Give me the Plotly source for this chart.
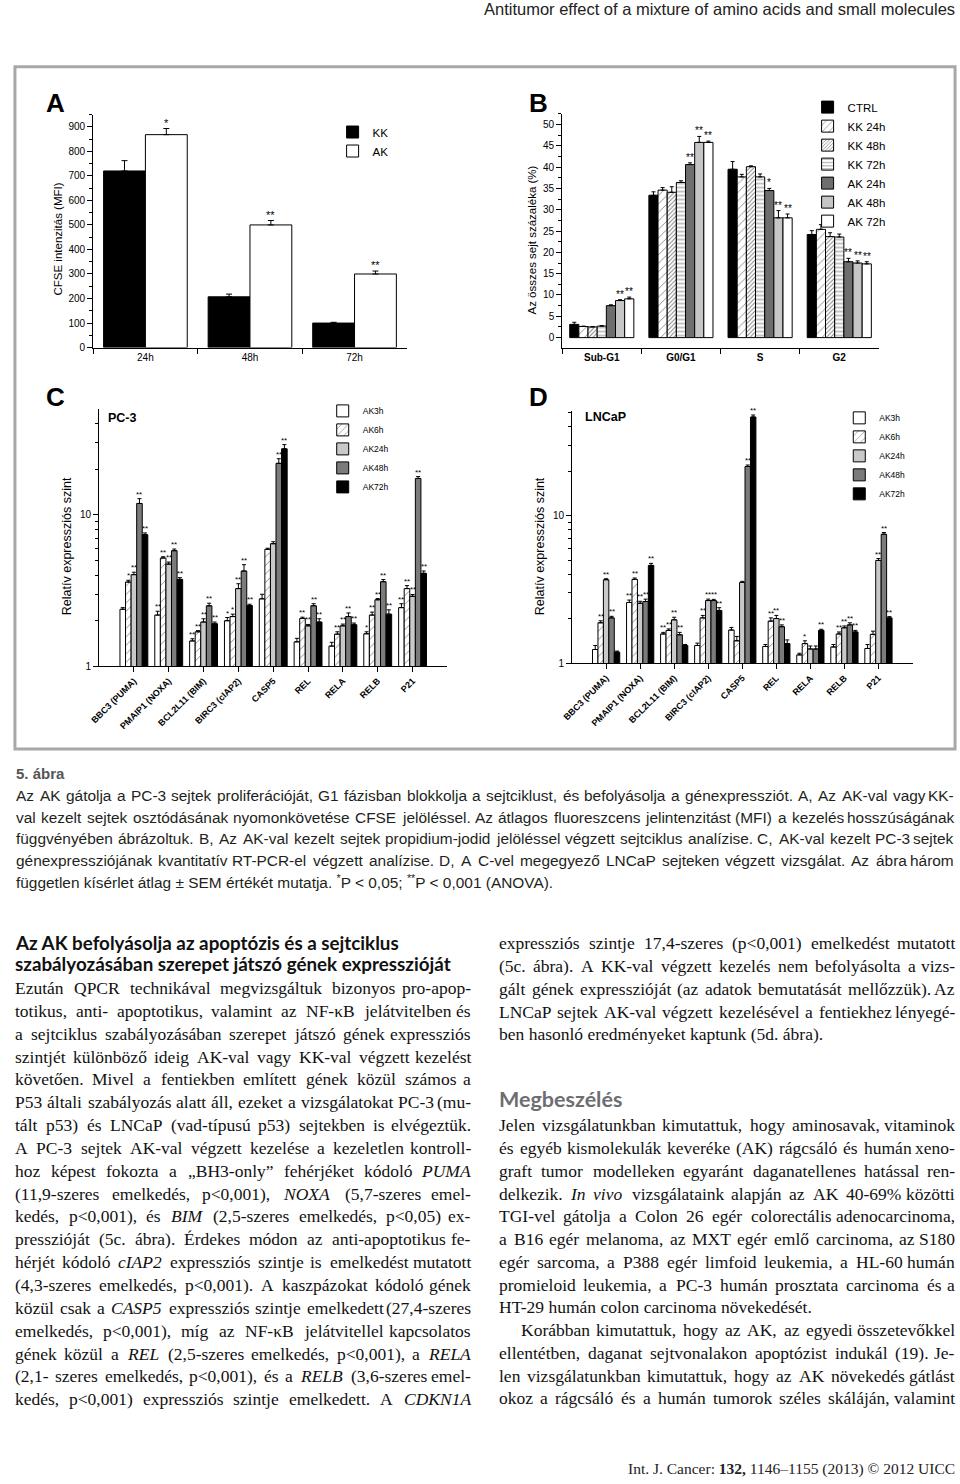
import math
import unicodedata
import plotly.graph_objects as go

W, H = 960, 1484


def X(px):
    return px / W


def Y(py):
    return 1 - py / H


# ---------------- Panel A: CFSE ----------------
a_times = ["24h", "48h", "72h"]
a_kk = [720, 207, 100]
a_kk_err = [42, 11, 3]
a_kk_sig = ["", "", ""]
a_ak = [868, 500, 300]
a_ak_err = [25, 18, 12]
a_ak_sig = ["*", "**", "**"]

# ---------------- Panel B: cell cycle ----------------
b_phases = ["Sub-G1", "G0/G1", "S", "G2"]
b_names = ["CTRL", "KK 24h", "KK 48h", "KK 72h", "AK 24h", "AK 48h", "AK 72h"]
b_ctrl = [3.1, 33.4, 39.5, 24.2]
b_ctrl_err = [0.5, 0.8, 1.8, 0.9]
b_kk24 = [2.6, 34.6, 37.7, 25.4]
b_kk24_err = [0.1, 0.6, 0.6, 1.1]
b_kk48 = [2.5, 34.1, 40.1, 23.7]
b_kk48_err = [0.1, 1.3, 0.2, 0.9]
b_kk72 = [2.7, 36.4, 37.7, 23.6]
b_kk72_err = [0.1, 0.4, 0.7, 0.7]
b_ak24 = [7.5, 40.6, 34.5, 17.8]
b_ak24_err = [0.2, 0.4, 0.5, 0.8]
b_ak48 = [8.7, 45.8, 28.1, 17.5]
b_ak48_err = [0.2, 1.4, 1.7, 0.5]
b_ak72 = [9.1, 45.8, 28.1, 17.3]
b_ak72_err = [0.4, 0.3, 0.9, 0.5]
b_none_sig = ["", "", "", ""]
b_ak24_sig = ["", "**", "*", "**"]
b_ak48_sig = ["**", "**", "**", "**"]
b_ak72_sig = ["**", "**", "**", "**"]

# ---------------- Panels C/D: gene expression ----------------
genes = ["BBC3 (PUMA)", "PMAIP1 (NOXA)", "BCL2L11 (BIM)", "BIRC3 (cIAP2)",
         "CASP5", "REL", "RELA", "RELB", "P21"]
cd_names = ["AK3h", "AK6h", "AK24h", "AK48h", "AK72h"]

c_ak3 = [2.38, 2.18, 1.47, 2.00, 2.79, 1.45, 1.36, 1.64, 2.44]
c_ak3_err = [0.06, 0.13, 0.05, 0.10, 0.20, 0.08, 0.08, 0.05, 0.15]
c_ak3_sig = ["", "**", "**", "*", "", "", "", "*", "**"]
c_ak6 = [3.60, 5.19, 1.69, 2.13, 5.92, 2.07, 1.63, 2.18, 3.26]
c_ak6_err = [0.10, 0.10, 0.03, 0.08, 0.10, 0.04, 0.06, 0.10, 0.15]
c_ak6_sig = ["*", "**", "**", "*", "", "**", "**", "**", "**"]
c_ak24 = [4.03, 4.73, 1.96, 3.26, 6.45, 1.85, 1.85, 2.75, 2.90]
c_ak24_err = [0.15, 0.15, 0.10, 0.25, 0.20, 0.04, 0.05, 0.05, 0.08]
c_ak24_sig = ["**", "**", "**", "**", "", "**", "**", "**", "**"]
c_ak48 = [11.9, 5.80, 2.51, 4.26, 21.9, 2.51, 2.13, 3.62, 17.4]
c_ak48_err = [0.90, 0.15, 0.10, 0.43, 1.60, 0.08, 0.12, 0.12, 0.50]
c_ak48_sig = ["**", "**", "**", "**", "**", "**", "**", "**", "**"]
c_ak72 = [7.40, 3.75, 1.91, 2.52, 27.3, 1.96, 1.88, 2.21, 4.11]
c_ak72_err = [0.20, 0.10, 0.05, 0.05, 1.80, 0.10, 0.05, 0.15, 0.15]
c_ak72_sig = ["**", "**", "**", "**", "**", "**", "**", "**", "**"]

d_ak3 = [1.24, 2.58, 1.58, 1.32, 1.68, 1.30, 1.14, 1.29, 1.26]
d_ak3_err = [0.08, 0.10, 0.04, 0.05, 0.07, 0.04, 0.03, 0.05, 0.08]
d_ak3_sig = ["", "**", "**", "", "", "", "", "", ""]
d_ak6 = [1.88, 3.70, 1.67, 2.03, 1.42, 1.93, 1.36, 1.58, 1.57]
d_ak6_err = [0.06, 0.08, 0.04, 0.08, 0.10, 0.10, 0.06, 0.05, 0.08]
d_ak6_sig = ["**", "**", "**", "**", "", "**", "*", "**", ""]
d_ak24 = [3.68, 2.55, 1.97, 2.66, 3.53, 2.01, 1.25, 1.74, 4.97]
d_ak24_err = [0.06, 0.08, 0.08, 0.06, 0.06, 0.10, 0.06, 0.05, 0.15]
d_ak24_sig = ["**", "**", "**", "**", "", "**", "", "**", "**"]
d_ak48 = [2.03, 2.62, 1.56, 2.66, 21.5, 1.77, 1.25, 1.82, 7.48]
d_ak48_err = [0.05, 0.10, 0.06, 0.05, 0.50, 0.05, 0.06, 0.06, 0.20]
d_ak48_sig = ["**", "**", "**", "**", "**", "**", "", "**", "**"]
d_ak72 = [1.19, 4.60, 1.32, 2.28, 46.5, 1.36, 1.67, 1.63, 2.03]
d_ak72_err = [0.02, 0.15, 0.02, 0.10, 1.50, 0.08, 0.03, 0.04, 0.04]
d_ak72_sig = ["", "**", "", "**", "**", "", "**", "**", "**"]

# ---------------- page text ----------------
header_text = "Antitumor effect of a mixture of amino acids and small molecules"
caption_title = "5. ábra"
caption_lines = [
    "Az AK gátolja a PC-3 sejtek proliferációját, G1 fázisban blokkolja a sejtciklust, és befolyásolja a génexpressziót. A, Az AK-val vagy KK-",
    "val kezelt sejtek osztódásának nyomonkövetése CFSE jelöléssel. Az átlagos fluoreszcens jelintenzitást (MFI) a kezelés hosszúságának",
    "függvényében ábrázoltuk. B, Az AK-val kezelt sejtek propidium-jodid jelöléssel végzett sejtciklus analízise. C, AK-val kezelt PC-3 sejtek",
    "génexpressziójának kvantitatív RT-PCR-el végzett analízise. D, A C-vel megegyező LNCaP sejteken végzett vizsgálat. Az ábra három",
]
caption_last = "független kísérlet átlag ± SEM értékét mutatja. *P < 0,05; **P < 0,001 (ANOVA)."

left_heading = ["Az AK befolyásolja az apoptózis és a sejtciklus",
                "szabályozásában szerepet játszó gének expresszióját"]
left_body = [
    "Ezután QPCR technikával megvizsgáltuk bizonyos pro-apop-",
    "totikus, anti- apoptotikus, valamint az NF-κB jelátvitelben és",
    "a sejtciklus szabályozásában szerepet játszó gének expressziós",
    "szintjét különböző ideig AK-val vagy KK-val végzett kezelést",
    "követően. Mivel a fentiekben említett gének közül számos a",
    "P53 általi szabályozás alatt áll, ezeket a vizsgálatokat PC-3 (mu-",
    "tált p53) és LNCaP (vad-típusú p53) sejtekben is elvégeztük.",
    "A PC-3 sejtek AK-val végzett kezelése a kezeletlen kontroll-",
    "hoz képest fokozta a „BH3-only” fehérjéket kódoló _PUMA_",
    "(11,9-szeres emelkedés, p<0,001), _NOXA_ (5,7-szeres emel-",
    "kedés, p<0,001), és _BIM_ (2,5-szeres emelkedés, p<0,05) ex-",
    "presszióját (5c. ábra). Érdekes módon az anti-apoptotikus fe-",
    "hérjét kódoló _cIAP2_ expressziós szintje is emelkedést mutatott",
    "(4,3-szeres emelkedés, p<0,001). A kaszpázokat kódoló gének",
    "közül csak a _CASP5_ expressziós szintje emelkedett (27,4-szeres",
    "emelkedés, p<0,001), míg az NF-κB jelátvitellel kapcsolatos",
    "gének közül a _REL_ (2,5-szeres emelkedés, p<0,001), a _RELA_",
    "(2,1- szeres emelkedés, p<0,001), és a _RELB_ (3,6-szeres emel-",
    "kedés, p<0,001) expressziós szintje emelkedett. A _CDKN1A_",
]
right_body1 = [
    "expressziós szintje 17,4-szeres (p<0,001) emelkedést mutatott",
    "(5c. ábra). A KK-val végzett kezelés nem befolyásolta a vizs-",
    "gált gének expresszióját (az adatok bemutatását mellőzzük). Az",
    "LNCaP sejtek AK-val végzett kezelésével a fentiekhez lényegé-",
    "ben hasonló eredményeket kaptunk (5d. ábra).",
]
right_heading = "Megbeszélés"
right_body2 = [
    "Jelen vizsgálatunkban kimutattuk, hogy aminosavak, vitaminok",
    "és egyéb kismolekulák keveréke (AK) rágcsáló és humán xeno-",
    "graft tumor modelleken egyaránt daganatellenes hatással ren-",
    "delkezik. _In_ _vivo_ vizsgálataink alapján az AK 40-69% közötti",
    "TGI-vel gátolja a Colon 26 egér colorectális adenocarcinoma,",
    "a B16 egér melanoma, az MXT egér emlő carcinoma, az S180",
    "egér sarcoma, a P388 egér limfoid leukemia, a HL-60 humán",
    "promieloid leukemia, a PC-3 humán prosztata carcinoma és a",
    "HT-29 humán colon carcinoma növekedését.",
    "Korábban kimutattuk, hogy az AK, az egyedi összetevőkkel",
    "ellentétben, daganat sejtvonalakon apoptózist indukál (19). Je-",
    "len vizsgálatunkban kimutattuk, hogy az AK növekedés gátlást",
    "okoz a rágcsáló és a humán tumorok széles skáláján, valamint",
]
footer_text = "Int. J. Cancer: <b>132,</b> 1146–1155 (2013) © 2012 UICC"

# ---------------- fonts / metrics ----------------
SANS = "Liberation Sans, Arial, sans-serif"
SERIF = "Liberation Serif, Times New Roman, serif"
HEAD = "Lato, Open Sans, sans-serif"


def _tbl(spec):
    d = {}
    for chars, w in spec:
        for c in chars:
            d[c] = w
    return d


TIMES = _tbl([(" ,.", 250), ("ijlt:;/", 278), ("fr()-I", 333), ("sJ", 389),
              ("acez?„”“", 444), ("bdghknopquvxy0123456789*–κ", 500),
              ("PSF", 556), ("<>+=±", 564), ("ETLZ", 611), ("BCR", 667),
              ("ADGHKNOQUVXYw", 722), ("m&", 778), ("%", 833), ("M", 889),
              ("W", 944), ("©", 760)])
ARIAL = _tbl([("ijl", 222), (" ,.:;/ftI!", 278), ("r()-", 333), ("*", 389),
              ("cksvxyzJ", 500), ("abdeghnopqu0123456789L", 556), ("<>+=±", 584),
              ("FTZ", 611), ("ABEKPSVXY", 667), ("CDHNRUw", 722), ("GOQ", 778),
              ("mM", 833), ("%", 889), ("W", 944)])


def cw(ch, table):
    if ch in table:
        return table[ch]
    base = unicodedata.normalize("NFD", ch)[0]
    return table.get(base, 500)


def esc(s):
    return s.replace("&", "&amp;").replace("<", "&lt;").replace(">", "&gt;")


def parse_word(w):
    if len(w) > 2 and w.startswith("_") and w.endswith("_"):
        core = w[1:-1]
        return core, "<i>" + esc(core) + "</i>"
    return w, esc(w)


def fit_size(lines, avail, size, table, min_gap_em):
    best = size
    for line in lines:
        words = line.split(" ")
        tot = sum(cw(c, table) for w in words for c in parse_word(w)[0])
        best = min(best, avail * 1000 / (tot + min_gap_em * 1000 * (len(words) - 1)))
    return best


fig = go.Figure()


def text_line(text, x0, x1, y, family, size, color, table, justify=True, min_gap_em=0.2):
    words = text.split(" ")
    parsed = [parse_word(w) for w in words]
    if not justify or len(words) < 2:
        fig.add_annotation(x=X(x0), y=Y(y), xref="paper", yref="paper", xanchor="left",
                           yanchor="middle", showarrow=False, borderpad=0,
                           text=" ".join(p[1] for p in parsed),
                           font=dict(family=family, size=size, color=color))
        return
    units = [sum(cw(c, table) for c in core) for core, _ in parsed]
    tot = sum(units)
    n = len(words)
    avail = x1 - x0
    s = size
    min_gap = min_gap_em * size
    if tot * s / 1000 + min_gap * (n - 1) > avail:
        s = (avail - min_gap * (n - 1)) * 1000 / tot
    gap = (avail - tot * s / 1000) / (n - 1)
    x = x0
    for k, ((core, disp), u) in enumerate(zip(parsed, units)):
        last = k == n - 1
        fig.add_annotation(x=X(x1 if last else x), y=Y(y), xref="paper", yref="paper",
                           xanchor="right" if last else "left", yanchor="middle",
                           showarrow=False, borderpad=0, text=disp,
                           font=dict(family=family, size=s, color=color))
        x += u * s / 1000 + gap


# ---------------- bars ----------------
def add_group(xa, ya, pos, cats, series, total_w, legend, capw, star_size, log=False):
    n = len(series)
    w = total_w / n
    for i, s in enumerate(series):
        off = -total_w / 2 + i * w
        fig.add_trace(go.Bar(
            x=cats, y=s["y"], name=s["name"], width=w, offset=off,
            xaxis=xa, yaxis=ya, legend=legend,
            marker=dict(color=s["color"], line=dict(color="black", width=1),
                        pattern=s.get("pattern")),
            error_y=dict(type="data", symmetric=False, array=s["err"],
                         arrayminus=[0] * len(s["err"]), color="black",
                         thickness=1, width=capw),
            hoverinfo="skip"))
        for j, mark in enumerate(s["sig"]):
            if mark:
                top = s["y"][j] + s["err"][j]
                fig.add_annotation(x=pos[j] + off + w / 2,
                                   y=math.log10(top) if log else top,
                                   xref=xa, yref=ya, text=mark, showarrow=False,
                                   yanchor="bottom", borderpad=0, yshift=-1,
                                   font=dict(family=SANS, size=star_size, color="black"))


def hatch(shape, size, sol):
    return dict(shape=shape, fgcolor="black", bgcolor="white", size=size, solidity=sol)


# Panel A
add_group("x", "y", list(range(len(a_times))), a_times, [
    dict(name="KK", y=a_kk, err=a_kk_err, sig=a_kk_sig, color="black"),
    dict(name="AK", y=a_ak, err=a_ak_err, sig=a_ak_sig, color="white"),
], 0.8, "legend", 3, 11)

# Panel B
b_vals = [b_ctrl, b_kk24, b_kk48, b_kk72, b_ak24, b_ak48, b_ak72]
b_errs = [b_ctrl_err, b_kk24_err, b_kk48_err, b_kk72_err, b_ak24_err, b_ak48_err, b_ak72_err]
b_sigs = [b_none_sig, b_none_sig, b_none_sig, b_none_sig, b_ak24_sig, b_ak48_sig, b_ak72_sig]
b_colors = ["black", "white", "white", "white", "#6e6e6e", "#c6c6c6", "white"]
b_patterns = [None, hatch("/", 6, 0.14), hatch("/", 3, 0.32), hatch("-", 4, 0.24), None, None, None]
add_group("x2", "y2", list(range(len(b_phases))), b_phases, [
    dict(name=nm, y=v, err=e, sig=sg, color=c, pattern=p)
    for nm, v, e, sg, c, p in zip(b_names, b_vals, b_errs, b_sigs, b_colors, b_patterns)
], 0.81, "legend2", 2, 10)

# Panels C, D
gpos = [i + 1 for i in range(len(genes))]
cd_colors = ["white", "white", "#c9c9c9", "#7b7b7b", "black"]
cd_patterns = [None, hatch("/", 6, 0.14), None, None, None]
c_vals = [c_ak3, c_ak6, c_ak24, c_ak48, c_ak72]
c_errs = [c_ak3_err, c_ak6_err, c_ak24_err, c_ak48_err, c_ak72_err]
c_sigs = [c_ak3_sig, c_ak6_sig, c_ak24_sig, c_ak48_sig, c_ak72_sig]
d_vals = [d_ak3, d_ak6, d_ak24, d_ak48, d_ak72]
d_errs = [d_ak3_err, d_ak6_err, d_ak24_err, d_ak48_err, d_ak72_err]
d_sigs = [d_ak3_sig, d_ak6_sig, d_ak24_sig, d_ak48_sig, d_ak72_sig]
add_group("x3", "y3", gpos, gpos, [
    dict(name=nm, y=v, err=e, sig=sg, color=c, pattern=p)
    for nm, v, e, sg, c, p in zip(cd_names, c_vals, c_errs, c_sigs, cd_colors, cd_patterns)
], 0.8, "legend3", 2, 8, log=True)
add_group("x4", "y4", gpos, gpos, [
    dict(name=nm, y=v, err=e, sig=sg, color=c, pattern=p)
    for nm, v, e, sg, c, p in zip(cd_names, d_vals, d_errs, d_sigs, cd_colors, cd_patterns)
], 0.8, "legend4", 2, 8, log=True)

# ---------------- axes ----------------
tf = dict(family=SANS, size=10, color="black")
base = dict(showline=True, linecolor="black", linewidth=1, ticks="outside",
            tickcolor="black", tickwidth=1, ticklen=5, showgrid=False,
            zeroline=False, fixedrange=True, tickfont=tf)


def minor_lin(d):
    return dict(ticks="outside", ticklen=3, tickcolor="black", tickwidth=1,
                dtick=d, tick0=0, showgrid=False)


log_minor = dict(ticks="outside", ticklen=3, tickcolor="black", tickwidth=1,
                 tickmode="array", tickvals=[2, 3, 4, 5, 6, 7, 8, 9, 20, 30, 40, 50],
                 showgrid=False)
gene_font = dict(family=SANS, size=9, color="black", weight="bold")

fig.update_layout(
    width=W, height=H, margin=dict(l=0, r=0, t=0, b=0),
    paper_bgcolor="white", plot_bgcolor="rgba(0,0,0,0)",
    barmode="group", hovermode=False, showlegend=True,
    xaxis=dict(base, type="category", domain=[X(84), X(401)], anchor="y",
               tickson="boundaries", range=[-0.5, 2.5]),
    yaxis=dict(base, domain=[Y(349), Y(115)], anchor="x", range=[0, 950],
               tick0=0, dtick=100, minor=minor_lin(50)),
    xaxis2=dict(base, type="category", domain=[X(558), X(878)], anchor="y2",
                tickson="boundaries", range=[-0.5, 3.5],
                tickfont=dict(family=SANS, size=10, color="black", weight="bold")),
    yaxis2=dict(base, domain=[Y(349), Y(114)], anchor="x2", range=[-2.34, 52.57],
                tick0=0, dtick=5, minor=minor_lin(2.5)),
    xaxis3=dict(base, domain=[X(90), X(442)], anchor="y3", range=[0, 10],
                tickmode="array", tickvals=gpos, ticktext=genes, tickangle=-45,
                tickfont=gene_font),
    yaxis3=dict(base, type="log", domain=[Y(669), Y(411)], anchor="x3",
                range=[0, 1.697], tickmode="array", tickvals=[1, 10],
                ticktext=["1", "10"], minor=log_minor),
    xaxis4=dict(base, domain=[X(568), X(912)], anchor="y4", range=[0, 10],
                tickmode="array", tickvals=gpos, ticktext=genes, tickangle=-45,
                tickfont=gene_font),
    yaxis4=dict(base, type="log", domain=[Y(666), Y(413)], anchor="x4",
                range=[0, 1.706], tickmode="array", tickvals=[1, 10],
                ticktext=["1", "10"], minor=log_minor),
    legend=dict(x=X(326), y=Y(118), xanchor="left", yanchor="top",
                bgcolor="rgba(0,0,0,0)", traceorder="normal",
                font=dict(family=SANS, size=11.5, color="black")),
    legend2=dict(x=X(806), y=Y(93), xanchor="left", yanchor="top",
                 bgcolor="rgba(0,0,0,0)", traceorder="normal",
                 font=dict(family=SANS, size=11.5, color="black")),
    legend3=dict(x=X(316), y=Y(398), xanchor="left", yanchor="top",
                 bgcolor="rgba(0,0,0,0)", traceorder="normal",
                 font=dict(family=SANS, size=8.5, color="black")),
    legend4=dict(x=X(838), y=Y(405), xanchor="left", yanchor="top",
                 bgcolor="rgba(0,0,0,0)", traceorder="normal",
                 font=dict(family=SANS, size=8.5, color="black")),
)

# frame around the figure
fig.add_shape(type="rect", xref="paper", yref="paper", x0=X(5), x1=X(955),
              y0=Y(752), y1=Y(67), line=dict(color="#a8a8a8", width=3))


def ann(x, y, text, size, family=SANS, color="black", xanchor="center", angle=0):
    fig.add_annotation(x=X(x), y=Y(y), xref="paper", yref="paper", text=text,
                       showarrow=False, xanchor=xanchor, yanchor="middle",
                       textangle=angle, borderpad=0,
                       font=dict(family=family, size=size, color=color))


# panel letters / titles
ann(46, 103, "<b>A</b>", 26)
ann(534, 103, "<b>B</b>", 26)
ann(46, 399, "<b>C</b>", 26)
ann(534, 399, "<b>D</b>", 26)
ann(98, 420, "<b>PC-3</b>", 12.5, xanchor="left")
ann(580, 419, "<b>LNCaP</b>", 12.5, xanchor="left")
ann(49, 240, "CFSE intenzitás (MFI)", 11.5, angle=-90)
ann(528, 241, "Az összes sejt százaléka (%)", 11.5, angle=-90)
ann(57, 548, "Relatív expressziós szint", 12.5, angle=-90)
ann(535, 548, "Relatív expressziós szint", 12.5, angle=-90)

# header / footer
ann(956, 9, esc(header_text), 16.5, color="#222222", xanchor="right")
fig.add_annotation(x=X(956), y=Y(1475), xref="paper", yref="paper", text=footer_text,
                   showarrow=False, xanchor="right", yanchor="middle", borderpad=0,
                   font=dict(family=SERIF, size=15.5, color="#222222"))

# caption (one common font size for the whole block)
cap_size = fit_size(caption_lines, 950, 16, ARIAL, 0.38)
ann(5, 777, "<b>" + caption_title + "</b>", 15, color="#555555", xanchor="left")
cap_y0, cap_dy = 799, 21.5
for k, line in enumerate(caption_lines):
    text_line(line, 5, 955, cap_y0 + k * cap_dy, SANS, cap_size, "#231f20", ARIAL, min_gap_em=0.3)
fig.add_annotation(
    x=X(5), y=Y(cap_y0 + len(caption_lines) * cap_dy), xref="paper", yref="paper",
    xanchor="left", yanchor="middle", showarrow=False, borderpad=0,
    text=esc(caption_last).replace("**P", "<sup>**</sup>P").replace(" *P", " <sup>*</sup>P"),
    font=dict(family=SANS, size=cap_size, color="#231f20"))

# left column
for k, line in enumerate(left_heading):
    ann(4, 946 + k * 21.5, "<b>" + line + "</b>", 18.8, family=HEAD, color="#111111", xanchor="left")
for k, line in enumerate(left_body):
    text_line(line, 4, 467, 992 + k * 22.94, SERIF, 17.5, "#111111", TIMES)

# right column
for k, line in enumerate(right_body1):
    text_line(line, 493, 956, 947 + k * 22.9, SERIF, 17.5, "#111111", TIMES,
              justify=(k < len(right_body1) - 1))
ann(493, 1103, "<b>" + right_heading + "</b>", 21.5, family=HEAD, color="#6d6e71", xanchor="left")
para_end = {8}
indent = {9: 22}
for k, line in enumerate(right_body2):
    text_line(line, 493 + indent.get(k, 0), 956, 1130 + k * 22.83, SERIF, 17.5, "#111111",
              TIMES, justify=(k not in para_end))

fig.write_html("out.html")
